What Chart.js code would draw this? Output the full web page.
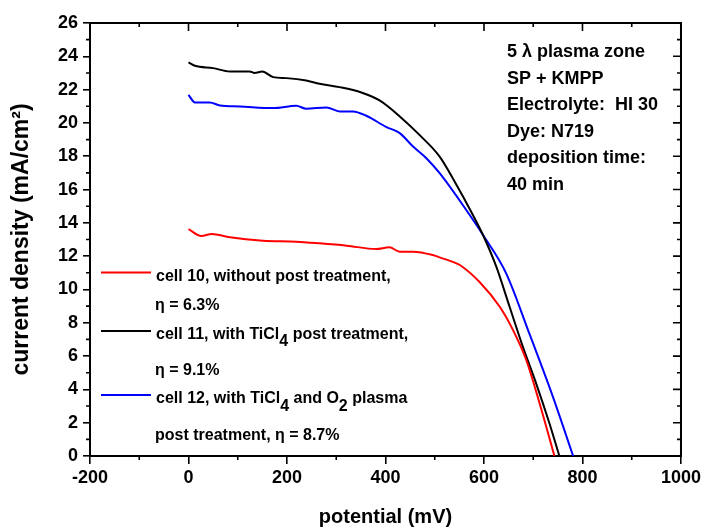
<!DOCTYPE html>
<html><head><meta charset="utf-8">
<script src="https://cdn.jsdelivr.net/npm/chart.js@4.4.0/dist/chart.umd.min.js"></script>
<style>html,body{margin:0;padding:0;background:#fff;}</style>
</head><body>
<canvas id="c" width="704" height="529" style="width:704px;height:529px;display:block"></canvas>
<script>
// ---- data ----
const xTickValues = [-200, 0, 200, 400, 600, 800, 1000];
const yTickValues = [0, 2, 4, 6, 8, 10, 12, 14, 16, 18, 20, 22, 24, 26];

const cell10V = [0, 26, 47, 84, 151, 219, 266, 321, 381, 408, 429, 456, 496, 510, 544, 551, 591, 632, 659, 686, 713, 743];
const cell10J = [13.63, 13.21, 13.33, 13.13, 12.93, 12.87, 12.77, 12.63, 12.43, 12.53, 12.27, 12.27, 12.07, 11.93, 11.57, 11.47, 10.45, 8.96, 7.56, 5.75, 3.15, 0];

const cell11V = [0, 13, 50, 84, 124, 134, 150, 172, 199, 239, 266, 307, 351, 388, 429, 469, 510, 540, 574, 598, 625, 652, 679, 706, 733, 753];
const cell11J = [23.63, 23.43, 23.29, 23.09, 23.09, 23.0, 23.09, 22.75, 22.69, 22.55, 22.35, 22.15, 21.83, 21.35, 20.39, 19.28, 17.98, 16.5, 14.67, 13.27, 11.37, 8.96, 6.55, 4.35, 1.95, 0];

const cell12V = [0, 13, 43, 64, 104, 172, 219, 239, 280, 307, 334, 361, 402, 429, 456, 483, 510, 564, 598, 645, 692, 740, 781];
const cell12J = [21.69, 21.23, 21.23, 21.05, 20.99, 20.89, 21.03, 20.85, 20.93, 20.69, 20.69, 20.43, 19.75, 19.39, 18.58, 17.88, 16.98, 14.77, 13.27, 10.97, 7.36, 3.55, 0];

const seriesColors = ['#ff0000', '#000000', '#0000ff'];

const annotationLines = ['5 \u03bb plasma zone', 'SP + KMPP', 'Electrolyte:  HI 30', 'Dye: N719', 'deposition time:', '40 min'];

// legend rich text: segments [text, isSubscript]
const legendRows = [
  {line: 0, segs: [['cell 10, without post treatment,', false]]},
  {line: -1, segs: [['\u03b7 = 6.3%', false]]},
  {line: 1, segs: [['cell 11, with TiCl', false], ['4', true], [' post treatment,', false]]},
  {line: -1, segs: [['\u03b7 = 9.1%', false]]},
  {line: 2, segs: [['cell 12, with TiCl', false], ['4', true], [' and O', false], ['2', true], [' plasma', false]]},
  {line: -1, segs: [['post treatment, \u03b7 = 8.7%', false]]}
];

function pts(xs, ys) { return xs.map((v, i) => ({x: v, y: ys[i]})); }

const FONT = '"Liberation Sans", Arial, Helvetica, sans-serif';

const framePlugin = {
  id: 'frame',
  afterDraw(chart) {
    const ctx = chart.ctx;
    const xs = chart.scales.x, ys = chart.scales.y;
    const {left, right, top, bottom} = chart.chartArea;
    ctx.save();
    ctx.strokeStyle = '#000';
    ctx.lineWidth = 2;
    // top and right frame lines
    ctx.beginPath();
    ctx.moveTo(left - 1, top); ctx.lineTo(right + 1, top);
    ctx.moveTo(right, top); ctx.lineTo(right, bottom + 1);
    ctx.stroke();
    ctx.lineWidth = 1.6;
    ctx.beginPath();
    // x ticks: major + minor midpoints
    for (let i = 0; i < xTickValues.length; i++) {
      const px = xs.getPixelForValue(xTickValues[i]);
      ctx.moveTo(px, top); ctx.lineTo(px, top + 8);
      if (i < xTickValues.length - 1) {
        const mid = (xTickValues[i] + xTickValues[i + 1]) / 2;
        const pm = xs.getPixelForValue(mid);
        ctx.moveTo(pm, top); ctx.lineTo(pm, top + 4);
        ctx.moveTo(pm, bottom); ctx.lineTo(pm, bottom + 4);
      }
    }
    for (let i = 0; i < yTickValues.length; i++) {
      const py = ys.getPixelForValue(yTickValues[i]);
      ctx.moveTo(right, py); ctx.lineTo(right - 8, py);
      if (i < yTickValues.length - 1) {
        const mid = (yTickValues[i] + yTickValues[i + 1]) / 2;
        const pm = ys.getPixelForValue(mid);
        ctx.moveTo(right, pm); ctx.lineTo(right - 4, pm);
        ctx.moveTo(left, pm); ctx.lineTo(left - 4, pm);
      }
    }
    ctx.stroke();

    // annotation block
    ctx.fillStyle = '#000';
    ctx.font = 'bold 18px ' + FONT;
    ctx.textBaseline = 'alphabetic';
    ctx.textAlign = 'left';
    const ax = left + 417, ay0 = top + 34, step = 26.5;
    annotationLines.forEach((t, i) => ctx.fillText(t, ax, ay0 + i * step));

    // legend
    const baselines = [281, 310, 338.5, 375, 403, 440];
    const lineY = [272.5, 331, 395];
    ctx.font = 'bold 16px ' + FONT;
    legendRows.forEach((row, i) => {
      let x = left + 65;
      if (row.line >= 0) {
        ctx.strokeStyle = seriesColors[row.line];
        ctx.lineWidth = 2;
        ctx.beginPath();
        ctx.moveTo(left + 11, lineY[row.line]);
        ctx.lineTo(left + 61, lineY[row.line]);
        ctx.stroke();
        x = left + 66;
      }
      row.segs.forEach(([t, sub]) => {
        ctx.fillText(t, x, baselines[i] + (sub ? 7.5 : 0));
        x += ctx.measureText(t).width;
      });
    });
    ctx.restore();
  }
};

new Chart(document.getElementById('c'), {
  type: 'scatter',
  data: {
    datasets: [
      {label: 'cell 10', data: pts(cell10V, cell10J), borderColor: seriesColors[0]},
      {label: 'cell 11', data: pts(cell11V, cell11J), borderColor: seriesColors[1]},
      {label: 'cell 12', data: pts(cell12V, cell12J), borderColor: seriesColors[2]}
    ].map(d => Object.assign(d, {showLine: true, pointRadius: 0, borderWidth: 2, cubicInterpolationMode: 'monotone', fill: false}))
  },
  options: {
    responsive: false,
    animation: false,
    devicePixelRatio: 1,
    layout: {padding: {left: 0, right: 23, top: 23, bottom: 0}},
    plugins: {legend: {display: false}, tooltip: {enabled: false}},
    scales: {
      x: {
        type: 'linear', min: -200, max: 1000,
        afterBuildTicks: s => { s.ticks = xTickValues.map(v => ({value: v})); },
        afterFit: s => { s.height = 73; },
        grid: {display: true, drawOnChartArea: false, drawTicks: true, tickLength: 8, color: '#000', lineWidth: 1.6},
        border: {display: true, color: '#000', width: 2},
        ticks: {color: '#000', font: {family: FONT, size: 18, weight: 'bold'}, padding: 3, maxRotation: 0, autoSkip: false, callback: v => String(v)},
        title: {display: true, text: 'potential (mV)', color: '#000', font: {family: FONT, size: 20, weight: 'bold', lineHeight: 1.2}, padding: {top: 0, bottom: 0}}
      },
      y: {
        type: 'linear', min: 0, max: 26,
        afterBuildTicks: s => { s.ticks = yTickValues.map(v => ({value: v})); },
        afterFit: s => { s.width = 90; },
        grid: {display: true, drawOnChartArea: false, drawTicks: true, tickLength: 7, color: '#000', lineWidth: 1.6},
        border: {display: true, color: '#000', width: 2},
        ticks: {color: '#000', font: {family: FONT, size: 18, weight: 'bold'}, padding: 5, autoSkip: false, callback: v => String(v)},
        title: {display: true, text: 'current density (mA/cm\u00b2)', color: '#000', font: {family: FONT, size: 23, weight: 'bold', lineHeight: 1.2}, padding: {top: 8, bottom: 0}}
      }
    }
  },
  plugins: [framePlugin]
});
</script>
</body></html>
